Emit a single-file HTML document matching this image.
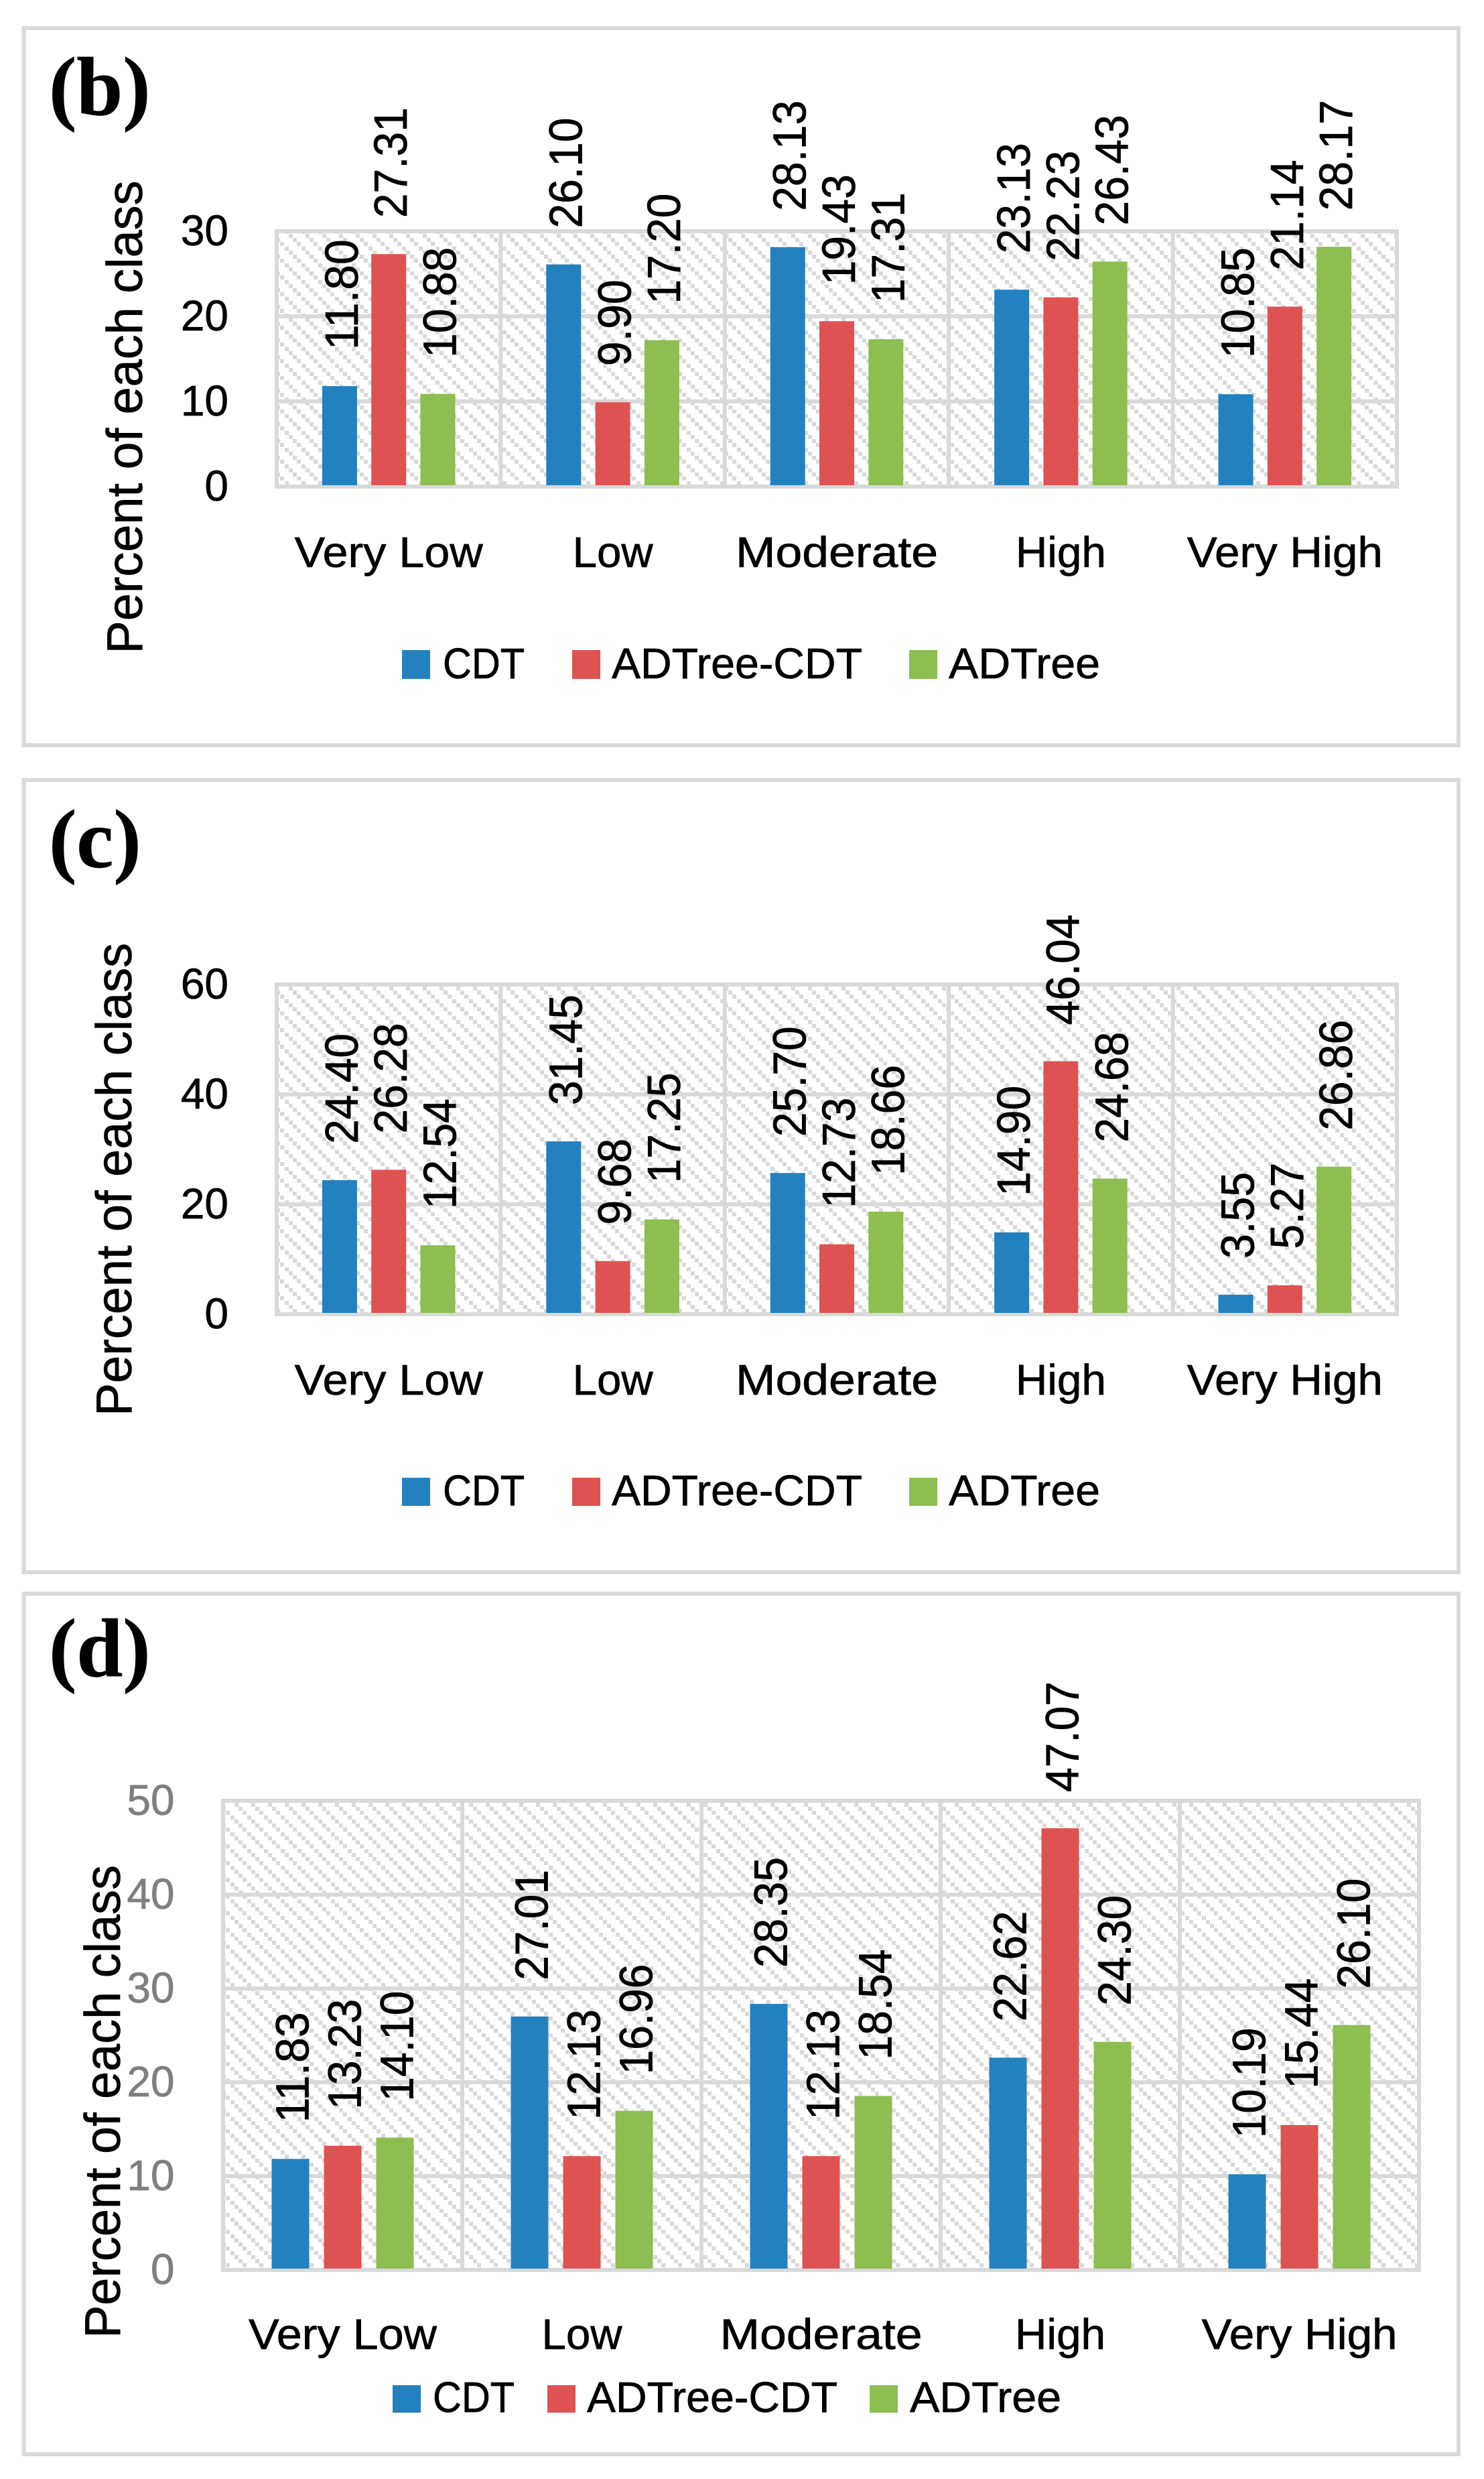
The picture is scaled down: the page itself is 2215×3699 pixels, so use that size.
<!DOCTYPE html>
<html lang="en">
<head>
<meta charset="utf-8">
<title>Percent of each class by susceptibility level</title>
<style>
html,body{margin:0;padding:0;background:#fff;}
body{width:2215px;height:3699px;overflow:hidden;}
svg{display:block;}
text{font-family:"Liberation Sans",sans-serif;fill:#000;stroke:#000;stroke-width:0.7px;}
.panel-letter{font-family:"Liberation Serif",serif;font-weight:bold;font-size:124px;}
</style>
</head>
<body>
<svg id="figure" xmlns="http://www.w3.org/2000/svg" width="2215" height="3699" viewBox="0 0 2215 3699"></svg>
<script>
// ---- chart data ----
const categories = ["Very Low", "Low", "Moderate", "High", "Very High"];
const seriesNames = ["CDT", "ADTree-CDT", "ADTree"];

const panelBCdt = [11.80, 26.10, 28.13, 23.13, 10.85];
const panelBHybrid = [27.31, 9.90, 19.43, 22.23, 21.14];
const panelBAdtree = [10.88, 17.20, 17.31, 26.43, 28.17];
const panelBTicks = [0, 10, 20, 30];

const panelCCdt = [24.40, 31.45, 25.70, 14.90, 3.55];
const panelCHybrid = [26.28, 9.68, 12.73, 46.04, 5.27];
const panelCAdtree = [12.54, 17.25, 18.66, 24.68, 26.86];
const panelCTicks = [0, 20, 40, 60];

const panelDCdt = [11.83, 27.01, 28.35, 22.62, 10.19];
const panelDHybrid = [13.23, 12.13, 12.13, 47.07, 15.44];
const panelDAdtree = [14.10, 16.96, 18.54, 24.30, 26.10];
const panelDTicks = [0, 10, 20, 30, 40, 50];

const yAxisTitle = "Percent of each class";

// ---- styling and layout ----
const seriesColors = ["#2481bf", "#df5252", "#8ebd52"];
const GRID = "#d9d9d9";
const catWidths = [281, 120, 302, 135, 292];
const legendTextWidths = [122, 374, 226];

const panels = [
  { key: "b", letter: "(b)", letterBase: 171, box: [42, 1112],
    plot: { l: 413, r: 2085, t: 345, b: 726 }, barW: 52, barStep: 73.3,
    hatch: [431, 349], tickEnd: 341, tickColor: "#000", tickDy: 21,
    titleX: 212, catBase: 846, series: [panelBCdt, panelBHybrid, panelBAdtree], ticks: panelBTicks,
    legend: { y: 970, h: 43, base: 1012, swatch: [600, 854, 1357], text: [661, 913, 1416] } },
  { key: "c", letter: "(c)", letterBase: 1294, box: [1164, 2346],
    plot: { l: 413, r: 2085, t: 1469, b: 1961 }, barW: 52, barStep: 73.3,
    hatch: [431, 1472], tickEnd: 341, tickColor: "#000", tickDy: 21,
    titleX: 196, catBase: 2081, series: [panelCCdt, panelCHybrid, panelCAdtree], ticks: panelCTicks,
    legend: { y: 2205, h: 42, base: 2246, swatch: [600, 854, 1357], text: [661, 913, 1416] } },
  { key: "d", letter: "(d)", letterBase: 2501, box: [2378, 3662],
    plot: { l: 333, r: 2118, t: 2687, b: 3387 }, barW: 56, barStep: 78,
    hatch: [350, 2690], tickEnd: 260.5, tickColor: "#7f7f7f", tickDy: 21,
    titleX: 179, catBase: 3505, series: [panelDCdt, panelDHybrid, panelDAdtree], ticks: panelDTicks,
    legend: { y: 3559, h: 41, base: 3599, swatch: [586, 817, 1298], text: [646, 876, 1358] } }
];

const NS = "http://www.w3.org/2000/svg";
const root = document.getElementById("figure");

function make(parent, tag, attrs, txt) {
  const el = document.createElementNS(NS, tag);
  for (const k in attrs) el.setAttribute(k, attrs[k]);
  if (txt !== undefined) el.textContent = txt;
  parent.appendChild(el);
  return el;
}

// Hatch pattern for each plot area
const defs = make(root, "defs", {});
panels.forEach(function (p) {
  const pat = make(defs, "pattern", {
    id: "hatch-" + p.key, patternUnits: "userSpaceOnUse",
    x: p.hatch[0], y: p.hatch[1], width: 25, height: 25
  });
  [0, 6, 12, 19].forEach(function (o) {
    make(pat, "rect", { x: o, y: o, width: 6, height: 6, fill: GRID });
  });
});

panels.forEach(function (p) {
  const maxTick = p.ticks[p.ticks.length - 1];
  const yScale = function (v) { return p.plot.b - (v / maxTick) * (p.plot.b - p.plot.t); };
  const cellW = (p.plot.r - p.plot.l) / categories.length;
  const catCenter = function (i) { return p.plot.l + cellW * (i + 0.5); };
  const xScale = function (i, s) { return catCenter(i) + (s - 1) * p.barStep; };

  const g = make(root, "g", {});
  
  

  const frame = make(g, "rect", {
    x: 35.5, y: p.box[0], width: 2141.5, height: p.box[1] - p.box[0],
    fill: "#fff", stroke: GRID, "stroke-width": 6
  });
  
  

  const letter = make(g, "text", { x: 73, y: p.letterBase, "class": "panel-letter" }, p.letter);
  
  

  const area = make(g, "rect", {
    x: p.plot.l, y: p.plot.t, width: p.plot.r - p.plot.l, height: p.plot.b - p.plot.t,
    fill: "url(#hatch-" + p.key + ")"
  });
  
  

  // Gridlines and y tick labels
  p.ticks.forEach(function (t) {
    const y = yScale(t);
    const line = make(g, "line", { x1: p.plot.l - 3, x2: p.plot.r + 3, y1: y, y2: y, stroke: GRID, "stroke-width": 6 });
    
    
    const s = String(t);
    const label = make(g, "text", {
      x: p.tickEnd, y: y + p.tickDy, "text-anchor": "end", "font-size": 64,
      style: "fill:" + p.tickColor + ";stroke:" + p.tickColor
    }, s);
    
    
  });

  // Vertical separators
  for (let i = 0; i <= categories.length; i++) {
    const x = p.plot.l + cellW * i;
    const line = make(g, "line", { x1: x, x2: x, y1: p.plot.t - 3, y2: p.plot.b + 3, stroke: GRID, "stroke-width": 6 });
    
    
  }

  // Bars
  p.series.forEach(function (vals, s) {
    vals.forEach(function (v, i) {
      const cx = xScale(i, s);
      const top = yScale(v);
      const bar = make(g, "rect", {
        x: cx - p.barW / 2, y: top, width: p.barW, height: Math.max(0, p.plot.b - 2 - top),
        fill: seriesColors[s]
      });
      
      

      const txt = v.toFixed(2);
      const bx = cx + 27;
      const by = top - 54;
      const label = make(g, "text", {
        x: bx, y: by, transform: "rotate(-90 " + bx + " " + by + ")",
        "font-size": 70, textLength: txt.length === 5 ? 165 : 129, lengthAdjust: "spacingAndGlyphs"
      }, txt);
      
      
    });
  });

  // Category labels
  categories.forEach(function (c, i) {
    const label = make(g, "text", {
      x: catCenter(i), y: p.catBase, "text-anchor": "middle", "font-size": 64,
      textLength: catWidths[i], lengthAdjust: "spacingAndGlyphs"
    }, c);
    
    
  });

  // Y axis title
  const titleY = (p.plot.t + p.plot.b) / 2 + (p.key === "b" ? 87 : p.key === "c" ? 45 : 99);
  const title = make(g, "text", {
    x: p.titleX, y: titleY, transform: "rotate(-90 " + p.titleX + " " + titleY + ")",
    "text-anchor": "middle", "font-size": 75, textLength: 706, lengthAdjust: "spacingAndGlyphs"
  }, yAxisTitle);
  
  

  // Legend
  seriesNames.forEach(function (n, s) {
    const swatch = make(g, "rect", {
      x: p.legend.swatch[s], y: p.legend.y, width: 42, height: p.legend.h, fill: seriesColors[s]
    });
    
    
    const label = make(g, "text", {
      x: p.legend.text[s], y: p.legend.base, "font-size": 64,
      textLength: legendTextWidths[s], lengthAdjust: "spacingAndGlyphs"
    }, n);
    
    
  });
});
</script>
</body>
</html>
